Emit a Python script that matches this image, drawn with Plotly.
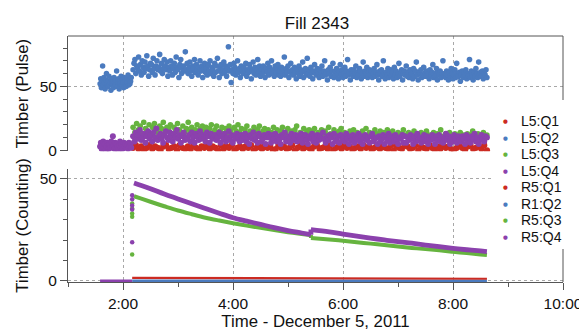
import pandas as pd
import plotly.graph_objects as go

# ---------------- data ----------------
DAY = "2011-12-05 "
T_PRE_START = DAY + "01:35"
T_PRE_END = DAY + "02:09"
T_POST_START = DAY + "02:11"
T_POST_END = DAY + "08:37"
T_INJ = DAY + "02:10"

series_names = ["L5:Q1", "L5:Q2", "L5:Q3", "L5:Q4", "R5:Q1", "R1:Q2", "R5:Q3", "R5:Q4"]
series_colors = ["#cc2b22", "#4b7bbf", "#66b43f", "#8b41ad", "#cc2b22", "#4b7bbf", "#66b43f", "#8b41ad"]

# --- Timber (Pulse) panel ---
l5q2_pre = [52, 56, 49, 54, 66, 51, 57, 53, 48, 55, 60, 52, 50, 54, 58, 51, 53, 47, 56, 52,
            54, 49, 57, 53, 51, 55, 62, 50, 53, 56, 48, 54, 52, 58, 51, 55, 53, 49, 57, 52,
            54, 50, 56, 53, 59, 51, 55, 52, 54, 57]
l5q2_post = [63, 68, 71, 60, 66, 64, 73, 62, 67, 59, 70, 65, 61, 69, 64, 74, 66, 58, 63, 68,
             67, 61, 72, 64, 59, 66, 70, 63, 65, 75, 62, 68, 60, 64, 71, 66, 63, 69, 58, 65,
             62, 70, 66, 59, 64, 68, 61, 73, 65, 63, 57, 67, 71, 60, 64, 66, 62, 77, 63, 68,
             60, 65, 69, 62, 58, 66, 64, 71, 61, 67, 63, 59, 65, 70, 62, 66, 57, 64, 68, 61,
             64, 59, 67, 62, 70, 60, 65, 63, 58, 68, 61, 66, 72, 62, 57, 64, 67, 60, 63, 69,
             61, 66, 58, 64, 81, 62, 67, 53, 63, 60, 68, 65, 59, 62, 70, 61, 64, 57, 66, 63,
             60, 65, 62, 68, 58, 63, 61, 67, 64, 56, 62, 69, 60, 65, 59, 63, 71, 61, 66, 58,
             63, 60, 66, 62, 57, 64, 61, 68, 59, 65, 62, 70, 60, 63, 58, 66, 61, 64, 67, 59,
             62, 58, 65, 60, 63, 73, 59, 64, 61, 66, 57, 62, 68, 60, 63, 59, 65, 61, 56, 64,
             60, 66, 58, 63, 61, 69, 57, 62, 64, 59, 72, 60, 63, 58, 65, 61, 56, 62, 67, 60,
             59, 64, 61, 57, 63, 60, 66, 58, 62, 70, 59, 61, 55, 63, 60, 65, 58, 62, 68, 57,
             61, 58, 64, 60, 56, 62, 67, 59, 63, 57, 60, 65, 58, 62, 71, 59, 61, 55, 63, 60,
             58, 63, 60, 66, 57, 61, 59, 64, 62, 56, 60, 69, 58, 62, 60, 65, 57, 61, 63, 59,
             62, 57, 60, 64, 58, 61, 67, 59, 55, 62, 60, 63, 58, 70, 60, 56, 61, 59, 64, 57,
             60, 63, 58, 61, 56, 65, 59, 62, 57, 60, 68, 58, 61, 63, 55, 60, 62, 59, 66, 58,
             61, 57, 63, 59, 60, 56, 64, 58, 62, 69, 59, 55, 61, 60, 63, 57, 59, 65, 58, 61,
             58, 62, 60, 56, 63, 59, 61, 67, 57, 60, 58, 64, 55, 61, 59, 62, 57, 60, 70, 58,
             60, 57, 62, 59, 55, 61, 58, 64, 60, 56, 59, 63, 57, 68, 60, 58, 61, 54, 59, 62,
             57, 61, 59, 63, 56, 60, 58, 71, 57, 62, 59, 55, 61, 58, 64, 60, 57, 69, 59, 61,
             58, 62, 56, 60, 59, 63, 57]
l5q4_pre = [3, 6, 1, 4, 7, 2, 5, 0, 3, 6, 4, 1, 5, 2, 7, 3, 11, 4, 1, 6,
            2, 5, 3, 0, 4, 7, 2, 5, 1, 4, 6, 3, 5, 2, 4, 1, 6, 3, 5, 2]
l5q4_post = [11, 7, 14, 9, 12, 16, 8, 10, 13, 6, 11, 15, 9, 12, 7, 14, 10, 17, 8, 11,
             13, 9, 6, 12, 15, 10, 8, 14, 11, 7, 13, 10, 16, 9, 12, 6, 11, 14, 8, 10,
             9, 12, 7, 14, 10, 6, 13, 11, 8, 15, 9, 12, 10, 7, 14, 11, 6, 13, 9, 10,
             12, 8, 10, 14, 6, 11, 9, 13, 7, 10, 15, 8, 12, 6, 11, 9, 13, 10, 7, 12,
             8, 11, 13, 7, 10, 5, 12, 9, 14, 8, 10, 6, 13, 11, 7, 9, 12, 5, 10, 13,
             10, 6, 12, 9, 13, 7, 11, 8, 5, 12, 10, 14, 7, 9, 11, 6, 13, 8, 10, 12,
             7, 11, 9, 13, 6, 10, 12, 8, 5, 11, 9, 13, 7, 10, 6, 12, 8, 11, 9, 14,
             9, 6, 11, 8, 12, 10, 5, 13, 7, 9, 11, 6, 12, 8, 10, 7, 13, 9, 5, 11,
             8, 12, 6, 10, 9, 13, 7, 11, 5, 9, 12, 8, 10, 6, 11, 13, 7, 9, 10, 5,
             11, 7, 9, 12, 5, 10, 8, 13, 6, 9, 11, 7, 12, 8, 5, 10, 9, 12, 6, 11,
             6, 10, 8, 12, 9, 5, 11, 7, 13, 8, 10, 6, 9, 12, 7, 11, 5, 10, 8, 12,
             9, 5, 11, 8, 12, 7, 10, 6, 9, 13, 8, 11, 5, 10, 7, 12, 9, 6, 11, 8,
             7, 11, 9, 5, 12, 8, 10, 6, 11, 9, 13, 7, 10, 5, 8, 12, 9, 7, 11, 10]
l5q3_post = [18, 14, 21, 16, 19, 13, 22, 17, 15, 20, 12, 18, 21, 16, 14, 19, 17, 22, 15, 18,
             17, 20, 13, 18, 15, 21, 16, 12, 19, 14, 17, 22, 15, 18, 13, 16, 20, 14, 17, 19,
             15, 18, 12, 17, 20, 14, 16, 19, 13, 15, 18, 11, 17, 14, 19, 16, 12, 18, 15, 20,
             14, 17, 12, 16, 19, 13, 15, 11, 18, 14, 16, 19, 12, 15, 17, 13, 16, 10, 14, 18,
             13, 16, 11, 15, 18, 12, 14, 17, 10, 15, 13, 16, 19, 12, 14, 11, 17, 13, 15, 16,
             12, 15, 17, 11, 14, 13, 16, 10, 15, 12, 18, 13, 11, 16, 14, 12, 15, 17, 11, 14,
             13, 10, 15, 12, 16, 11, 14, 13, 9, 15, 12, 17, 11, 14, 12, 10, 16, 13, 11, 15,
             11, 14, 12, 16, 10, 13, 15, 11, 12, 14, 9, 13, 16, 12, 11, 14, 10, 13, 15, 12,
             12, 10, 14, 11, 13, 15, 9, 12, 11, 14, 10, 13, 12, 16, 11, 9, 13, 12, 14, 10,
             11, 13, 9, 12, 14, 10, 12, 11, 13, 9, 12, 15, 10, 11, 13, 12, 9, 14, 11, 12]
l5q1_post = [2, 4, 1, 3, 0, 2, 4, 1, 3, 2, 0, 3, 4, 1, 2, 3, 0, 4, 2, 1,
             3, 1, 4, 2, 0, 3, 2, 4, 1, 3, 2, 0, 4, 1, 3, 2, 4, 0, 2, 3,
             1, 3, 2, 4, 0, 2, 3, 1, 4, 2, 3, 0, 1, 4, 2, 3, 1, 2, 4, 0,
             2, 4, 1, 3, 2, 0, 3, 4, 1, 2, 3, 1, 4, 0, 2, 3, 1, 4, 2, 3,
             0, 2, 3, 1, 4, 2, 3, 0, 2, 4, 1, 3, 2, 1, 4, 0, 3, 2, 1, 4,
             3, 1, 2, 4, 0, 3, 2, 1, 4, 2, 0, 3, 1, 4, 2, 3, 1, 0, 2, 4,
             2, 0, 3, 4, 1, 2, 3, 1, 4, 0]

# --- Timber (Counting) panel ---
curve_times = ["02:12", "02:20", "02:30", "02:45", "03:00", "03:15", "03:30", "03:45",
               "04:00", "04:15", "04:30", "04:45", "05:00", "05:15", "05:25", "05:25",
               "05:45", "06:00", "06:15", "06:30", "06:45", "07:00", "07:15", "07:30",
               "07:45", "08:00", "08:15", "08:30", "08:37"]
r5q4_curve = [48.0, 46.8, 45.2, 42.6, 40.2, 37.8, 35.5, 33.2, 31.0, 29.3, 27.7, 26.1, 24.7,
              23.5, 22.7, 25.2, 24.1, 23.0, 22.0, 21.0, 20.1, 19.3, 18.5, 17.6, 16.8, 16.0,
              15.3, 14.7, 14.4]
r5q3_curve = [41.5, 40.3, 38.8, 36.6, 34.5, 32.7, 31.0, 29.6, 28.3, 27.1, 26.0, 24.9, 23.9,
              23.0, 22.5, 21.0, 20.3, 19.7, 19.0, 18.3, 17.6, 16.9, 16.2, 15.6, 15.0, 14.3,
              13.7, 13.0, 12.7]
STEP_INDEX = 15  # first sample after the 5:25 step
r5q4_spike = [19, 35, 37, 40, 42]
r5q3_spike = [13, 31.5, 33, 35.5, 38]
r5q4_pre_times = ["01:35", "02:10"]
r5q4_pre = [0, 0]
base_times = ["02:10", "04:00", "06:00", "08:37"]
r5q1_base = [1.5, 1.3, 1.2, 1.1]
r1q2_base = [0, 0, 0, 0]

xtick_vals = ["02:00", "04:00", "06:00", "08:00", "10:00"]
xtick_text = ["2:00", "4:00", "6:00", "8:00", "10:00"]


def stamps(hhmm):
    return [DAY + t for t in hhmm]


def span(start, end, values):
    return pd.date_range(start, end, periods=len(values))


# ---------------- figure ----------------
W, H = 587, 331
ML, MR, MT, MB = 60, 24, 28, 49
FONT = "Liberation Sans, Arial, Helvetica, sans-serif"

fig = go.Figure()


def dots(x, y, color, xa, ya, size):
    fig.add_trace(go.Scatter(x=x, y=y, mode="markers", xaxis=xa, yaxis=ya,
                             marker=dict(color=color, size=size, line=dict(width=0)),
                             showlegend=False, hoverinfo="skip"))


def band(x, y, color, xa, ya, width, shape="linear"):
    fig.add_trace(go.Scatter(x=x, y=y, mode="lines", xaxis=xa, yaxis=ya,
                             line=dict(color=color, width=width, shape=shape, smoothing=1.0),
                             showlegend=False, hoverinfo="skip"))


def stepped_curve(values, color, width):
    # smooth decay before and after the 5:25 step, joined by the vertical step itself
    k = STEP_INDEX
    band(ct[:k], values[:k], color, "x2", "y2", width, "spline")
    band(ct[k - 1:k + 1], values[k - 1:k + 1], color, "x2", "y2", width)
    band(ct[k:], values[k:], color, "x2", "y2", width, "spline")


# top panel
dots(span(T_POST_START, T_POST_END, l5q1_post), l5q1_post, series_colors[0], "x", "y", 6.3)
dots(span(T_PRE_START, T_PRE_END, l5q2_pre), l5q2_pre, series_colors[1], "x", "y", 5.5)
dots(span(T_POST_START, T_POST_END, l5q2_post), l5q2_post, series_colors[1], "x", "y", 5.6)
dots(span(T_POST_START, T_POST_END, l5q3_post), l5q3_post, series_colors[2], "x", "y", 5.6)
dots(span(T_PRE_START, T_PRE_END, l5q4_pre), l5q4_pre, series_colors[3], "x", "y", 6)
dots(span(T_POST_START, T_POST_END, l5q4_post), l5q4_post, series_colors[3], "x", "y", 6)

# bottom panel
ct = stamps(curve_times)
band(stamps(base_times), r1q2_base, series_colors[5], "x2", "y2", 3)
band(stamps(base_times), r5q1_base, series_colors[4], "x2", "y2", 2.2)
band(stamps(r5q4_pre_times), r5q4_pre, series_colors[7], "x2", "y2", 3)
stepped_curve(r5q3_curve, series_colors[6], 4)
dots([T_INJ] * len(r5q3_spike), r5q3_spike, series_colors[6], "x2", "y2", 4.5)
stepped_curve(r5q4_curve, series_colors[7], 4.8)
dots([T_INJ] * len(r5q4_spike), r5q4_spike, series_colors[7], "x2", "y2", 4.5)

# ---------------- layout ----------------
plot_h = H - MT - MB
plot_w = W - ML - MR


def py(pix):
    return (H - MB - pix) / plot_h


def px(pix):
    return (pix - ML) / plot_w


grid = dict(showgrid=True, gridcolor="#a8a8a8", griddash="dot", gridwidth=1)
axis_line = dict(showline=True, linecolor="#555", linewidth=1)
tickfont = dict(family=FONT, size=15.5, color="#111")
titlefont = dict(family=FONT, size=16.8, color="#111")
xrange_ = [DAY + "01:00", DAY + "10:00"]

fig.update_layout(
    width=W, height=H,
    margin=dict(l=ML, r=MR, t=MT, b=MB),
    paper_bgcolor="white", plot_bgcolor="white",
    showlegend=False,
    font=dict(family=FONT, size=15, color="#111"),
    title=dict(text="Fill 2343", x=px(313), xref="paper", xanchor="center",
               y=1 - 15 / H, yref="container", yanchor="middle",
               font=dict(family=FONT, size=17, color="#111")),
    xaxis=dict(domain=[0, 1], anchor="y", type="date", range=xrange_,
               tickmode="array", tickvals=stamps(xtick_vals), ticktext=xtick_text,
               showticklabels=False, ticks="", zeroline=False, showline=False, **grid),
    yaxis=dict(domain=[py(147), 1], anchor="x", range=[-0.7, 89.4],
               tickmode="linear", tick0=0, dtick=50, ticks="outside", ticklen=7,
               tickcolor="#555", tickfont=tickfont, zeroline=False,
               minor=dict(dtick=10, tick0=0, ticks="outside", ticklen=4, tickcolor="#555",
                          showgrid=False),
               title=dict(text="Timber (Pulse)", font=titlefont, standoff=6),
               **axis_line, **grid),
    xaxis2=dict(domain=[0, 1], anchor="y2", type="date", range=xrange_,
                tickmode="array", tickvals=stamps(xtick_vals), ticktext=xtick_text,
                ticks="outside", ticklen=7, tickcolor="#555", tickfont=tickfont,
                zeroline=False, layer="below traces",
                minor=dict(dtick=3600000, tick0=DAY + "01:00", ticks="outside", ticklen=4,
                           tickcolor="#555", showgrid=False),
                title=dict(text="Time - December 5, 2011", font=titlefont, standoff=4),
                **axis_line, **grid),
    yaxis2=dict(domain=[0, py(165)], anchor="x2", range=[-0.5, 55],
                tickmode="linear", tick0=0, dtick=50, ticks="outside", ticklen=7,
                tickcolor="#555", tickfont=tickfont, zeroline=False,
                minor=dict(dtick=10, tick0=0, ticks="outside", ticklen=4, tickcolor="#555",
                           showgrid=False),
                title=dict(text="Timber (Counting)", font=titlefont, standoff=6),
                **axis_line, **grid),
)

# frame: top and right borders
fig.add_shape(type="line", xref="paper", yref="paper", x0=0, x1=1, y0=1, y1=1,
              line=dict(color="#555", width=1), layer="above")
fig.add_shape(type="line", xref="paper", yref="paper", x0=1, x1=1, y0=0, y1=1,
              line=dict(color="#555", width=1), layer="above")
# legend background
fig.add_shape(type="rect", xref="paper", yref="paper", x0=px(490), x1=px(572),
              y0=py(248), y1=py(94), fillcolor="white", line=dict(width=0), layer="above")

# legend entries (text annotations)
leg_top, leg_step = 116, 17.05
for i, (name, col) in enumerate(zip(series_names, series_colors)):
    yy = py(leg_top + i * leg_step)
    fig.add_annotation(xref="paper", yref="paper", x=px(505), y=yy, text="●",
                       showarrow=False, xanchor="center", yanchor="middle",
                       font=dict(size=5.5, color=col, family="DejaVu Sans"))
    fig.add_annotation(xref="paper", yref="paper", x=px(518), y=yy, text=name,
                       showarrow=False, xanchor="left", yanchor="middle",
                       font=dict(size=14, color="#111", family=FONT))

fig.write_html("out.html")
